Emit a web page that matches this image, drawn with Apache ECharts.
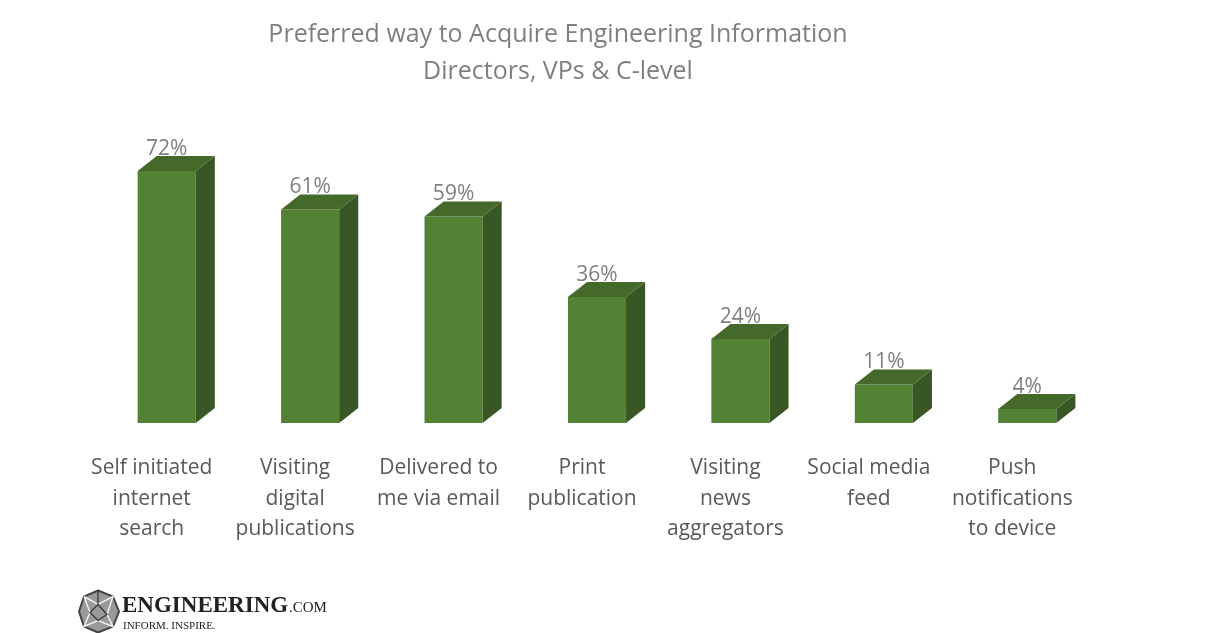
<!DOCTYPE html>
<html>
<head>
<meta charset="utf-8">
<script src="https://cdn.jsdelivr.net/npm/echarts@6/dist/echarts.min.js"></script>
<style>
  html, body { margin: 0; padding: 0; background: #fff; }
  #chart { width: 1215px; height: 633px; }
</style>
</head>
<body>
<div id="chart"></div>
<script>
const categories = [
    'Self initiated\ninternet\nsearch',
    'Visiting\ndigital\npublications',
    'Delivered to\nme via email',
    'Print\npublication',
    'Visiting\nnews\naggregators',
    'Social media\nfeed',
    'Push\nnotifications\nto device'
]
const shares = [72, 61, 59, 36, 24, 11, 4]

const frontColor = '#548235'
const topColor = '#44692b'
const sideColor = '#385724'

const myChart = echarts.init(document.getElementById('chart'))

// draws one 3d-looking box per category
const renderBox = (params, api) => {
    const idx = api.value(0)
    const val = api.value(1)
    const top = api.coord([idx, val])
    const base = api.coord([idx, 0])
    const band = api.size([1, 0])[0]
    const w = band * 0.405
    const x0 = top[0] - band * 0.098
    const x1 = x0 + w
    const dx = band * 0.133
    const dy = 15
    return {
        type: 'group',
        children: [
            {
                type: 'polygon',
                shape: { points: [[x0, top[1]], [x1, top[1]], [x1, base[1]], [x0, base[1]]] },
                style: { fill: frontColor }
            },
            {
                type: 'polygon',
                shape: { points: [[x1, top[1]], [x1 + dx, top[1] - dy], [x1 + dx, base[1] - dy], [x1, base[1]]] },
                style: { fill: sideColor }
            },
            {
                type: 'polygon',
                shape: { points: [[x0, top[1]], [x0 + dx, top[1] - dy], [x1 + dx, top[1] - dy], [x1, top[1]]] },
                style: { fill: topColor }
            },
            {
                type: 'text',
                style: {
                    text: val + '%',
                    x: (x0 + x1) / 2,
                    y: top[1] - 22,
                    align: 'center',
                    verticalAlign: 'middle',
                    font: '21px "Open Sans", sans-serif',
                    fill: '#7f7f7f'
                }
            }
        ]
    }
}

const option = {
    animation: false,
    backgroundColor: '#ffffff',
    title: {
        text: 'Preferred way to Acquire Engineering Information\nDirectors, VPs & C-level',
        left: 553,
        textAlign: 'center',
        top: 11,
        textStyle: {
            fontFamily: '"Open Sans", sans-serif',
            fontWeight: 'normal',
            fontSize: 25,
            lineHeight: 37,
            color: '#7f7f7f'
        }
    },
    grid: {
        left: 80,
        right: 131,
        top: 73,
        bottom: 210,
        containLabel: false
    },
    xAxis: {
        type: 'category',
        data: categories,
        axisLine: { show: false },
        axisTick: { show: false },
        axisLabel: {
            interval: 0,
            margin: 30,
            fontFamily: '"Open Sans", sans-serif',
            fontSize: 21,
            lineHeight: 30.5,
            color: '#595959'
        }
    },
    yAxis: {
        type: 'value',
        min: 0,
        max: 100,
        show: false,
        splitLine: { show: false }
    },
    series: [
        {
            type: 'custom',
            renderItem: renderBox,
            data: shares.map((v, i) => [i, v])
        }
    ],
    graphic: [
        {
            type: 'group',
            left: 78,
            top: 588,
            children: [
                {
                    type: 'polygon',
                    shape: { points: [[19, 0], [34, 6], [40, 21], [34, 36], [19, 42], [5, 36], [0, 21], [5, 6]] },
                    style: { fill: '#9a9a9a', stroke: '#444', lineWidth: 2 }
                },
                {
                    type: 'polyline',
                    shape: { points: [[5, 6], [19, 14], [34, 6], [28, 24], [34, 36], [19, 30], [5, 36], [11, 22], [5, 6]] },
                    style: { stroke: '#f2f2f2', lineWidth: 1.5, fill: null }
                },
                {
                    type: 'polyline',
                    shape: { points: [[19, 0], [19, 14], [11, 22], [19, 30], [28, 24], [19, 14]] },
                    style: { stroke: '#333', lineWidth: 1.2, fill: null }
                },
                {
                    type: 'text',
                    style: {
                        text: 'ENGINEERING',
                        x: 43,
                        y: 4,
                        font: 'bold 23px "Liberation Serif", serif',
                        fill: '#222'
                    }
                },
                {
                    type: 'text',
                    style: {
                        text: '.COM',
                        x: 210,
                        y: 10,
                        font: '15px "Liberation Serif", serif',
                        fill: '#222'
                    }
                },
                {
                    type: 'text',
                    style: {
                        text: 'INFORM. INSPIRE.',
                        x: 44,
                        y: 30,
                        font: '11px "Liberation Serif", serif',
                        fill: '#222'
                    }
                }
            ]
        }
    ]
}

myChart.setOption(option)
</script>
</body>
</html>
